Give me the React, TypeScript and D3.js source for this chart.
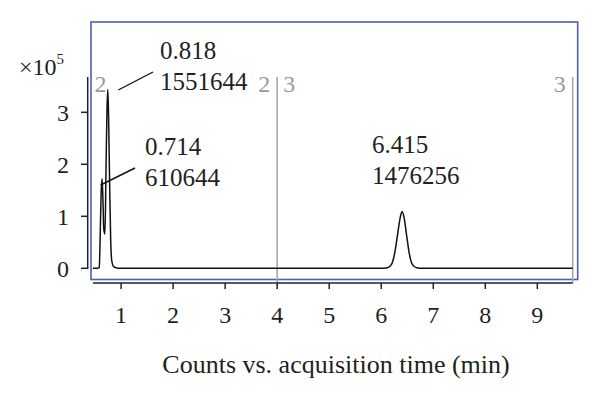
import React from 'react';
import * as d3 from 'd3';

// chromatogram trace, counts in units of 1e5
const times = [0.46, 0.55, 0.58, 0.6, 0.615, 0.635, 0.65, 0.668, 0.69, 0.71, 0.73, 0.745, 0.76, 0.78, 0.8, 0.82, 0.85, 0.9, 1.0, 2.0, 3.0, 4.0, 5.0, 6.0, 6.12, 6.2, 6.26, 6.31, 6.36, 6.4, 6.44, 6.49, 6.54, 6.6, 6.68, 6.8, 7.5, 8.5, 9.68];
const counts = [0.0, 0.0, 0.02, 0.7, 1.4, 1.72, 1.35, 0.75, 0.66, 1.9, 3.1, 3.44, 2.9, 1.6, 0.55, 0.15, 0.04, 0.01, 0.0, 0.0, 0.0, 0.0, 0.0, 0.0, 0.01, 0.08, 0.3, 0.62, 0.95, 1.09, 0.97, 0.62, 0.28, 0.07, 0.01, 0.0, 0.0, 0.0, 0.0];

const xTicks = [1, 2, 3, 4, 5, 6, 7, 8, 9];
const yTicks = [0, 1, 2, 3];

// segment boundaries and labels
const segmentStarts = [0.46, 4];
const segmentEnds = [4, 9.68];
const segmentLabels = ['2', '3'];

// peak annotations
const peakTimes = ['0.818', '0.714', '6.415'];
const peakAreas = ['1551644', '610644', '1476256'];

const textColor = '#231f20';
const font = '"Liberation Serif", "Times New Roman", serif';

export default function App() {
  const width = 600;
  const height = 398;
  const frame = { left: 91, top: 22, right: 577.7, bottom: 279.5 };
  const axisY = 283;
  const yAxisX = 87.7;
  const topOfLines = 77;

  const x = d3.scaleLinear().domain([0.46, 9.68]).range([93, 572.7]);
  const y = d3.scaleLinear().domain([0, 3]).range([268.3, 112.3]);

  const line = d3
    .line<number>()
    .x((d, i) => x(times[i]))
    .y((d) => y(d))
    .curve(d3.curveMonotoneX);

  // label placement for each annotation: text x, first baseline, leader line ends
  const annLayout = [
    { tx: 160, ty: 59, x1: 118.3, y1: 90, x2: 153, y2: 72 },
    { tx: 145, ty: 155, x1: 100.7, y1: 185, x2: 135, y2: 168 },
    { tx: 372, ty: 153, x1: null, y1: null, x2: null, y2: null },
  ];

  return (
    <svg
      width={width}
      height={height}
      style={{ position: 'absolute', left: 0, top: 0, background: '#fff' }}
      fontFamily={font}
    >
      <rect x={0} y={0} width={width} height={height} fill="#fff" />
      <rect
        x={frame.left}
        y={frame.top}
        width={frame.right - frame.left}
        height={frame.bottom - frame.top}
        fill="none"
        stroke="#4f5fb0"
        strokeWidth={1.6}
      />

      {/* segment boundaries */}
      {segmentEnds.map((e, i) => (
        <line
          key={'seg' + i}
          x1={x(e)}
          x2={x(e)}
          y1={topOfLines}
          y2={axisY}
          stroke="#a8a8a8"
          strokeWidth={1.6}
        />
      ))}
      {segmentLabels.map((lab, i) => (
        <g key={'segl' + i} fill="#9a9a9a" fontSize={24}>
          <text x={x(segmentStarts[i]) + (i === 0 ? 1.5 : 6)} y={92}>
            {lab}
          </text>
          <text x={x(segmentEnds[i]) - 7} y={92} textAnchor="end">
            {lab}
          </text>
        </g>
      ))}

      {/* trace */}
      <path d={line(counts) || ''} fill="none" stroke="#111" strokeWidth={1.5} />

      {/* y axis */}
      <line x1={yAxisX} x2={yAxisX} y1={topOfLines} y2={y(0) + 0.8} stroke="#222" strokeWidth={1.5} />
      {yTicks.map((t) => (
        <g key={'yt' + t}>
          <line x1={81} x2={yAxisX} y1={y(t)} y2={y(t)} stroke="#222" strokeWidth={1.5} />
          <text x={69} y={y(t)} dy="0.35em" textAnchor="end" fontSize={24} fill={textColor}>
            {t}
          </text>
        </g>
      ))}
      <text x={19} y={75} fontSize={24} fill={textColor}>
        ×10
        <tspan fontSize={15} dy={-11}>
          5
        </tspan>
      </text>

      {/* x axis */}
      <line x1={x(0.46)} x2={x(9.68)} y1={axisY} y2={axisY} stroke="#222" strokeWidth={1.5} />
      {xTicks.map((t) => (
        <g key={'xt' + t}>
          <line x1={x(t)} x2={x(t)} y1={axisY} y2={axisY + 6} stroke="#222" strokeWidth={1.5} />
          <text x={x(t)} y={323} textAnchor="middle" fontSize={24} fill={textColor}>
            {t}
          </text>
        </g>
      ))}
      <text x={336} y={373} textAnchor="middle" fontSize={26} fill={textColor}>
        Counts vs. acquisition time (min)
      </text>

      {/* peak annotations */}
      {peakTimes.map((pt, i) => {
        const a = annLayout[i];
        return (
          <g key={'ann' + i} fill={textColor} fontSize={25}>
            {a.x1 !== null && (
              <line x1={a.x1} y1={a.y1} x2={a.x2} y2={a.y2} stroke="#111" strokeWidth={1.4} />
            )}
            <text x={a.tx} y={a.ty}>
              {pt}
            </text>
            <text x={a.tx} y={a.ty + 31}>
              {peakAreas[i]}
            </text>
          </g>
        );
      })}
    </svg>
  );
}
